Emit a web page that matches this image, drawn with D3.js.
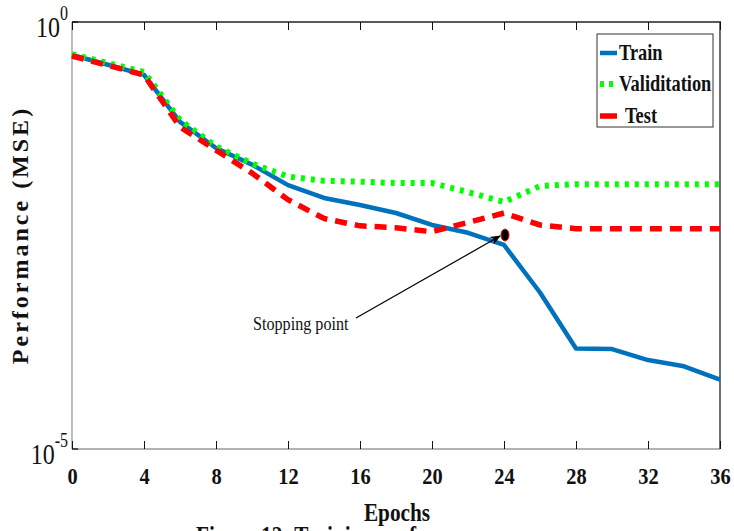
<!DOCTYPE html>
<html>
<head>
<meta charset="utf-8">
<script src="https://cdn.jsdelivr.net/npm/d3@7"></script>
<style>
  body { margin: 0; background: #fff; }
  svg text { font-family: "Liberation Serif", "Times New Roman", serif; font-weight: bold; fill: #111; }
</style>
</head>
<body>
<svg width="734" height="531"></svg>
<script>
/// data (MSE per epoch)
var epochs = [0, 2, 4, 6, 8, 10, 12, 14, 16, 18, 20, 22, 24, 26, 28, 30, 32, 34, 36];
var train = [0.411, 0.316, 0.24, 0.0676, 0.0335, 0.0214, 0.0123, 0.0087, 0.0072, 0.0058,
             0.0042, 0.0034, 0.00245, 0.00068, 0.00015, 0.000148, 0.00011, 0.000093, 0.000065];
var validation = [0.42, 0.33, 0.26, 0.071, 0.035, 0.022, 0.0155, 0.0138, 0.0135, 0.013,
                  0.013, 0.0102, 0.0078, 0.012, 0.0126, 0.0126, 0.0126, 0.0126, 0.0126];
var test = [0.40, 0.31, 0.24, 0.059, 0.0316, 0.017, 0.0083, 0.005, 0.0041, 0.0039,
            0.0035, 0.0045, 0.0058, 0.0042, 0.0038, 0.0038, 0.0038, 0.0038, 0.0038];
var xTicks = [0, 4, 8, 12, 16, 20, 24, 28, 32, 36];
var stopEpoch = 24, stopValue = 0.0032;

var svg = d3.select("svg");
// plot box (note: "top" is taken by window.top, so use a margin object)
var m = { left: 72, right: 720, top: 22, bottom: 449 };

var x = d3.scaleLinear().domain([0, 36]).range([m.left, m.right]);
var y = d3.scaleLog().domain([1e-5, 1]).range([m.bottom, m.top]);

// frame: left/bottom grey, top/right black (MATLAB look)
svg.append("line").attr("x1", m.left).attr("x2", m.left).attr("y1", m.top).attr("y2", m.bottom)
    .style("stroke", "#999").style("stroke-width", 1.3);
svg.append("line").attr("x1", m.left).attr("x2", m.right).attr("y1", m.bottom).attr("y2", m.bottom)
    .style("stroke", "#999").style("stroke-width", 1.3);
svg.append("line").attr("x1", m.left).attr("x2", m.right + 1).attr("y1", m.top).attr("y2", m.top)
    .style("stroke", "#222").style("stroke-width", 1.3);
svg.append("line").attr("x1", m.right).attr("x2", m.right).attr("y1", m.top).attr("y2", m.bottom)
    .style("stroke", "#222").style("stroke-width", 1.3);

/// x axis (ticks inward, labels below)
var xAxis = svg.append("g")
    .attr("transform", "translate(0," + m.bottom + ")")
    .call(d3.axisBottom(x).tickValues(xTicks).tickSize(-8).tickPadding(17).tickFormat(d3.format("d")));
xAxis.select(".domain").remove();
xAxis.selectAll("line").style("stroke", "#111");
xAxis.selectAll("text").style("font-size", "24px").attr("dy", "0.75em")
    .attr("transform", "scale(0.85,1)");

var xTop = svg.append("g")
    .attr("transform", "translate(0," + m.top + ")")
    .call(d3.axisTop(x).tickValues(xTicks).tickSize(-8).tickFormat(""));
xTop.select(".domain").remove();
xTop.selectAll("line").style("stroke", "#111");

/// y ticks: only the decades at the ends
[1, 1e-5].forEach(function(v) {
  svg.append("line").attr("x1", m.left).attr("x2", m.left + 6).attr("y1", y(v)).attr("y2", y(v))
      .style("stroke", "#111").style("stroke-width", 1.3);
});
function decade(v, exp, dx) {
  var t = svg.append("text").attr("text-anchor", "end")
      .attr("transform", "translate(" + (m.left - dx) + "," + (y(v) + 15) + ") scale(0.8,1)")
      .style("font-size", "30px").style("font-weight", "normal");
  t.append("tspan").text("10");
  t.append("tspan").attr("dy", -17).style("font-size", "20px").text(exp);
}
decade(1, "0", 4);
decade(1e-5, "-5", 4);

/// lines
var line = function(vals) {
  return d3.line().x(function(d, i) { return x(epochs[i]); })
                  .y(function(d) { return y(d); })(vals);
};
svg.append("path").attr("d", line(train))
    .style("fill", "none").style("stroke", "#0072BD").style("stroke-width", 4.5)
    .style("stroke-linejoin", "round");
svg.append("path").attr("d", line(validation))
    .style("fill", "none").style("stroke", "#00FF00").style("stroke-width", 6)
    .style("stroke-dasharray", "4,6");
svg.append("path").attr("d", line(test))
    .style("fill", "none").style("stroke", "#FF0000").style("stroke-width", 5.5)
    .style("stroke-dasharray", "12,8");

/// stopping point marker + annotation
svg.append("ellipse").attr("cx", x(stopEpoch) + 1).attr("cy", y(stopValue))
    .attr("rx", 4).attr("ry", 6)
    .style("fill", "#000").style("stroke", "#FF0000").style("stroke-width", 1);

var defs = svg.append("defs");
defs.append("marker").attr("id", "arrow").attr("viewBox", "0 0 10 10")
    .attr("refX", 9).attr("refY", 5).attr("markerWidth", 9).attr("markerHeight", 9)
    .attr("orient", "auto")
  .append("path").attr("d", "M0,1 L10,5 L0,9 L3,5 Z").style("fill", "#000");

svg.append("line")
    .attr("x1", 356).attr("y1", 318)
    .attr("x2", x(stopEpoch) - 4).attr("y2", y(stopValue) + 1)
    .style("stroke", "#000").style("stroke-width", 1.2)
    .attr("marker-end", "url(#arrow)");
svg.append("text")
    .attr("transform", "translate(253,330) scale(0.85,1)")
    .style("font-size", "19px").style("font-weight", "normal")
    .text("Stopping point");

/// legend
var legend = svg.append("g");
legend.append("rect").attr("x", 597).attr("y", 34).attr("width", 116).attr("height", 93)
    .style("fill", "#fff").style("stroke", "#333").style("stroke-width", 1);
var items = [
  { name: "Train", color: "#0072BD", dash: null, w: 4.5, yy: 53 },
  { name: "Validitation", color: "#00FF00", dash: "4,5", w: 6, yy: 84 },
  { name: "Test", color: "#FF0000", dash: null, w: 5.5, yy: 116 }
];
items.forEach(function(d) {
  legend.append("line").attr("x1", 600).attr("x2", 617).attr("y1", d.yy).attr("y2", d.yy)
      .style("stroke", d.color).style("stroke-width", d.w)
      .style("stroke-dasharray", d.dash);
  legend.append("text")
      .attr("transform", "translate(" + (d.name === "Test" ? 625 : 619) + "," + (d.yy + 7) + ") scale(0.8,1)")
      .style("font-size", "23px").text(d.name);
});

/// axis titles
svg.append("text").attr("text-anchor", "middle")
    .attr("transform", "translate(397,521) scale(0.85,1)")
    .style("font-size", "25px").text("Epochs");
svg.append("text").attr("text-anchor", "middle")
    .attr("transform", "translate(28,235) rotate(-90)")
    .style("font-size", "24px").style("letter-spacing", "3px").text("Performance (MSE)");

// figure caption, cut off by the page edge
svg.append("text")
    .attr("transform", "translate(196,544) scale(0.85,1)")
    .style("font-size", "25px").text("Figure 12: Training performance curve");
</script>
</body>
</html>
